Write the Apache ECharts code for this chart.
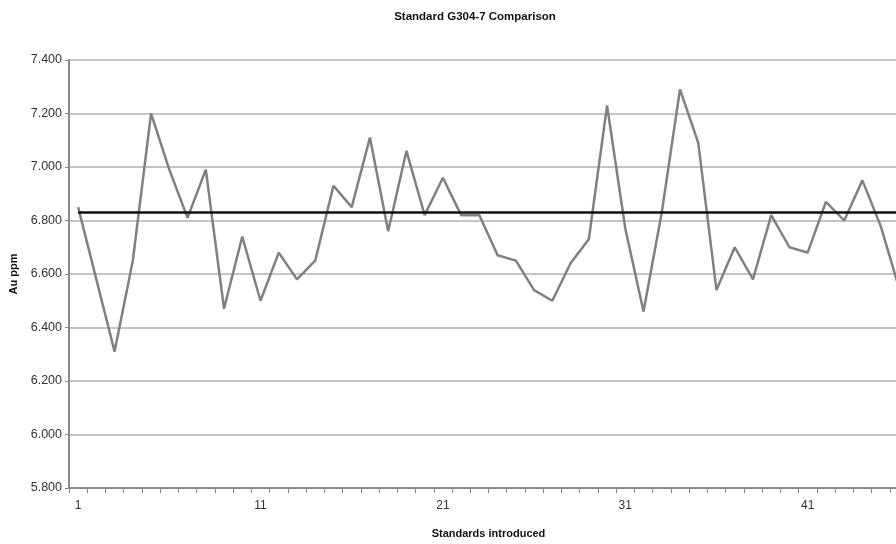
<!DOCTYPE html>
<html>
<head>
<meta charset="utf-8">
<script src="https://cdn.jsdelivr.net/npm/echarts@6/dist/echarts.min.js"></script>
<style>
html,body{margin:0;padding:0;overflow:hidden;background:#fff;width:896px;height:544px;}
#c{width:930px;height:544px;}
</style>
</head>
<body>
<div id="c"></div>
<script>
var categories = [];
for (var i = 1; i <= 46; i++) categories.push(String(i));
var auValues = [6.85, 6.58, 6.31, 6.65, 7.20, 6.99, 6.81, 6.99, 6.47, 6.74,
                6.50, 6.68, 6.58, 6.65, 6.93, 6.85, 7.11, 6.76, 7.06, 6.82,
                6.96, 6.82, 6.82, 6.67, 6.65, 6.54, 6.50, 6.64, 6.73, 7.23,
                6.77, 6.46, 6.83, 7.29, 7.09, 6.54, 6.70, 6.58, 6.82, 6.70,
                6.68, 6.87, 6.80, 6.95, 6.78, 6.55];
var standardValue = 6.83;
var standardLine = categories.map(function(){ return standardValue; });

var chart = echarts.init(document.getElementById('c'));
var font = 'Liberation Sans, Arial, sans-serif';
chart.setOption({
  animation: false,
  title: {
    text: 'Standard G304-7 Comparison',
    left: 470, top: 6, textAlign: 'center',
    textStyle: {fontFamily: font, fontSize: 11.5, fontWeight: 'bold', color: '#111'}
  },
  grid: {left: 69, right: 22, top: 60, bottom: 51},
  xAxis: {
    type: 'category',
    data: categories,
    boundaryGap: true,
    name: 'Standards introduced',
    nameLocation: 'middle',
    nameGap: 40,
    nameTextStyle: {fontFamily: font, fontSize: 11, fontWeight: 'bold', color: '#111'},
    axisLine: {lineStyle: {color: '#888', width: 2}},
    axisTick: {show: true, interval: 0, length: 5, lineStyle: {color: '#888'}},
    axisLabel: {interval: 9, fontFamily: font, fontSize: 12, color: '#333', margin: 12},
    splitLine: {show: false}
  },
  yAxis: {
    type: 'value',
    min: 5.8, max: 7.4, interval: 0.2,
    name: 'Au ppm',
    nameLocation: 'middle',
    nameGap: 47,
    nameRotate: 90,
    nameTextStyle: {fontFamily: font, fontSize: 11, fontWeight: 'bold', color: '#111'},
    axisLine: {show: true, lineStyle: {color: '#888', width: 2}},
    axisTick: {show: true, length: 4, lineStyle: {color: '#888'}},
    axisLabel: {fontFamily: font, fontSize: 12.5, color: '#333', margin: 7,
      formatter: function(v){ return v.toFixed(3); }},
    splitLine: {lineStyle: {color: '#b0b0b0', width: 1.5}}
  },
  series: [
    {
      type: 'line', data: auValues, symbol: 'none',
      lineStyle: {color: '#808080', width: 2.5}, z: 3
    },
    {
      type: 'line', data: standardLine, symbol: 'none',
      lineStyle: {color: '#111', width: 2.5}, z: 4
    }
  ]
});
</script>
</body>
</html>
